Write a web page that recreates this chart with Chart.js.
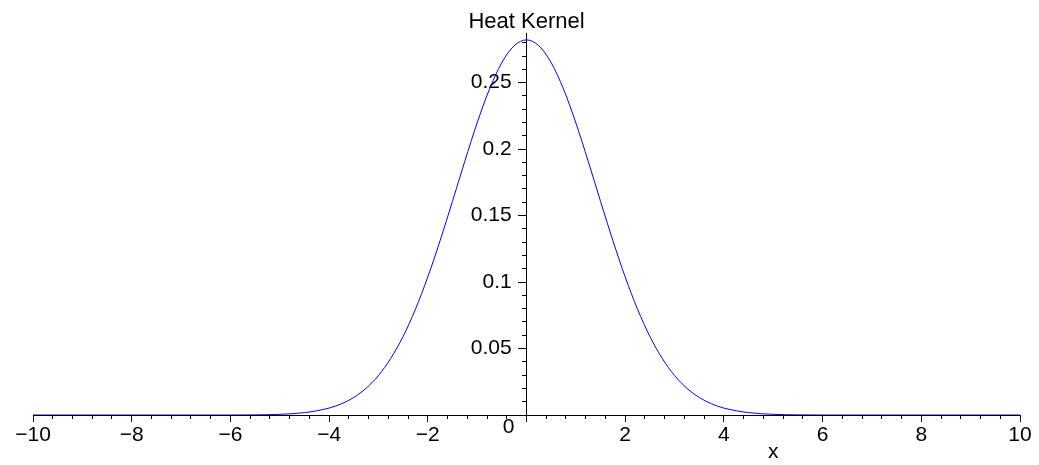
<!DOCTYPE html>
<html>
<head>
<meta charset="utf-8">
<script src="https://cdn.jsdelivr.net/npm/chart.js@4.4.1/dist/chart.umd.min.js"></script>
<style>
  html, body { margin: 0; padding: 0; background: #fff; }
  #wrap { width: 1039px; height: 465px; }
</style>
</head>
<body>
<div id="wrap"><canvas id="heatKernel"></canvas></div>
<script>
// values
const xValues = [
  -10, -9.5, -9, -8.5, -8, -7.5, -7, -6.5, -6, -5.5, -5, -4.5,
  -4, -3.75, -3.5, -3.25, -3, -2.75, -2.5, -2.25, -2, -1.75, -1.5, -1.25,
  -1, -0.75, -0.5, -0.25, 0, 0.25, 0.5, 0.75, 1,
  1.25, 1.5, 1.75, 2, 2.25, 2.5, 2.75, 3, 3.25, 3.5, 3.75, 4,
  4.5, 5, 5.5, 6, 6.5, 7, 7.5, 8, 8.5, 9, 9.5, 10
];
const kernelValues = [
  0, 0, 0, 0, 0, 0, 0, 0, 0, 0.0001, 0.0005, 0.0018,
  0.0052, 0.0084, 0.0132, 0.0201, 0.0297, 0.0426, 0.0591, 0.0796, 0.1038, 0.1312, 0.1607, 0.1909,
  0.2197, 0.2451, 0.2650, 0.2777, 0.2821, 0.2777, 0.2650, 0.2451, 0.2197,
  0.1909, 0.1607, 0.1312, 0.1038, 0.0796, 0.0591, 0.0426, 0.0297, 0.0201, 0.0132, 0.0084, 0.0052,
  0.0018, 0.0005, 0.0001, 0, 0, 0, 0, 0, 0, 0, 0, 0
];
const xTickLabels = ['−10', '−8', '−6', '−4', '−2', '', '2', '4', '6', '8', '10'];
const yTickLabels = ['', '0.05', '0.1', '0.15', '0.2', '0.25'];

const fontFamily = '"Liberation Sans", Arial, sans-serif';
const tickFont = { family: fontFamily, size: 21 };

// "0" at the origin and the "x" axis name, Maple style
const axisLabels = {
  id: 'axisLabels',
  afterDraw(chart) {
    const ctx = chart.ctx;
    const xs = chart.scales.x, ys = chart.scales.y;
    const x0 = xs.getPixelForValue(0), y0 = ys.getPixelForValue(0);
    ctx.save();
    ctx.font = '21px ' + fontFamily;
    ctx.fillStyle = '#000';
    ctx.textAlign = 'center';
    ctx.textBaseline = 'alphabetic';
    ctx.fillText('0', x0 - 18, y0 + 18);
    ctx.fillText('x', xs.getPixelForValue(5), y0 + 43);
    ctx.restore();
  }
};

new Chart(document.getElementById('heatKernel'), {
  type: 'line',
  data: {
    datasets: [{
      data: xValues.map((v, i) => ({ x: v, y: kernelValues[i] })),
      borderColor: '#0000ff',
      borderWidth: 1,
      pointRadius: 0,
      fill: false,
      cubicInterpolationMode: 'monotone'
    }]
  },
  options: {
    responsive: true,
    maintainAspectRatio: false,
    animation: false,
    layout: { padding: { left: 33, right: 19, top: 0, bottom: 50 } },
    plugins: {
      legend: { display: false },
      tooltip: { enabled: false },
      title: {
        display: true,
        text: 'Heat Kernel',
        color: '#000',
        font: { family: fontFamily, size: 22, weight: 'normal' },
        padding: { top: 9, bottom: -2 }
      }
    },
    scales: {
      x: {
        type: 'linear', min: -10, max: 10, position: { y: 0 },
        ticks: {
          stepSize: 2, autoSkip: false, maxRotation: 0, color: '#000', font: tickFont, padding: 2,
          callback: (v, i) => xTickLabels[i]
        },
        grid: { drawOnChartArea: false, tickLength: 6, tickColor: '#000' },
        border: { display: true, color: '#000', width: 1 }
      },
      xMinor: {
        type: 'linear', axis: 'x', min: -10, max: 10, position: { y: 0 },
        ticks: { stepSize: 0.4, display: false },
        grid: { drawOnChartArea: false, tickLength: 4, tickColor: '#000' },
        border: { display: false }
      },
      y: {
        type: 'linear', min: 0, max: 0.287, position: { x: 0 },
        ticks: { stepSize: 0.05, includeBounds: false, display: false },
        grid: { drawOnChartArea: false, tickLength: 8, tickColor: '#000' },
        border: { display: true, color: '#000', width: 1 }
      },
      // label column, set a little left of the y axis
      yLabels: {
        type: 'linear', axis: 'y', min: 0, max: 0.287, position: { x: -0.3 },
        ticks: {
          stepSize: 0.05, includeBounds: false, autoSkip: false, color: '#000', font: tickFont,
          callback: (v, i) => yTickLabels[i]
        },
        grid: { drawOnChartArea: false, drawTicks: false },
        border: { display: false }
      },
      yMinor: {
        type: 'linear', axis: 'y', min: 0, max: 0.287, position: { x: 0 },
        ticks: { stepSize: 0.01, includeBounds: false, display: false },
        grid: { drawOnChartArea: false, tickLength: 5, tickColor: '#000' },
        border: { display: false }
      }
    }
  },
  plugins: [axisLabels]
});
</script>
</body>
</html>
